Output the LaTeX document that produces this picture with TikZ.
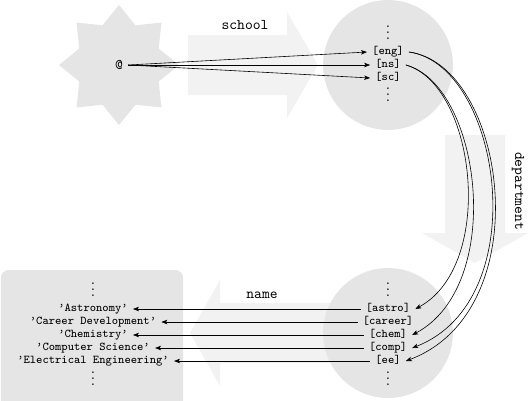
\documentclass[tikz,border=0pt]{standalone}
\usetikzlibrary{arrows.meta}
\newcommand{\vdts}{\vbox{\baselineskip4pt\lineskiplimit0pt\hbox{.}\hbox{.}\hbox{.}}}
\newcommand{\q}{\textquoteright}
\begin{document}
\begin{tikzpicture}[x=0.673pt, y=-0.673pt,
  shapefill/.style={fill=gray!20},
  fatarrow/.style={fill=gray!10},
  item/.style={font=\ttfamily\footnotesize, text height=5.5pt, text depth=1.8pt, inner ysep=0.2pt},
  dotnode/.style={font=\ttfamily\footnotesize, inner sep=0pt},
  lbl/.style={font=\ttfamily},
  conn/.style={-{Stealth[length=4pt,width=3pt,inset=1pt]}}]
\useasboundingbox (0,0) rectangle (530,400);
% fat arrows
\fill[fatarrow] (188,35) -- (287,35) -- (287,12) -- (318,65) -- (287,118) -- (287,95) -- (188,95) -- cycle;
\fill[fatarrow] (445,135) -- (505,135) -- (505,233) -- (528,233) -- (475,263) -- (422,233) -- (445,233) -- cycle;
\fill[fatarrow] (345,303) -- (220,303) -- (220,280) -- (190,333) -- (220,386) -- (220,363) -- (345,363) -- cycle;
% star
\begin{scope}[shift={(119,65)}]
\fill[shapefill] (90:60) -- (112.5:43) -- (135:60) -- (157.5:43) -- (180:60) -- (202.5:43) -- (225:60) -- (247.5:43) -- (270:60) -- (292.5:43) -- (315:60) -- (337.5:43) -- (0:60) -- (22.5:43) -- (45:60) -- (67.5:43) -- cycle;
\end{scope}
% circles and box
\fill[shapefill] (388,65) circle[radius=43.7pt];
\fill[shapefill] (388,333) circle[radius=43.7pt];
\fill[shapefill, rounded corners=5pt] (1,270) rectangle (183,420);
% labels
\node[lbl] (school) at (245,25) {school};
\node[lbl, rotate=-90] (department) at (518,191) {department};
\node[lbl] (name) at (262,295) {name};
% root
\node[lbl] (at) at (119,65) {@};
% top circle
\node[dotnode] (td1) at (388,33) {\vdts};
\node[item] (eng) at (388,52) {[eng]};
\node[item] (ns) at (388,65) {[ns]};
\node[item] (sc) at (388,78) {[sc]};
\node[dotnode] (td2) at (388,95) {\vdts};
% bottom circle
\node[dotnode] (bd1) at (388,290) {\vdts};
\node[item] (astro) at (388,309) {[astro]};
\node[item] (career) at (388,322) {[career]};
\node[item] (chem) at (388,335) {[chem]};
\node[item] (comp) at (388,348) {[comp]};
\node[item] (ee) at (388,361) {[ee]};
\node[dotnode] (bd2) at (388,379) {\vdts};
% names
\node[dotnode] (ld1) at (93,290) {\vdts};
\node[item] (nastro) at (93,309) {\q Astronomy\q};
\node[item] (ncareer) at (93,322) {\q Career Development\q};
\node[item] (nchem) at (93,335) {\q Chemistry\q};
\node[item] (ncomp) at (93,348) {\q Computer Science\q};
\node[item] (nee) at (93,361) {\q Electrical Engineering\q};
\node[dotnode] (ld2) at (93,379) {\vdts};
% connectors
\draw[conn] (at.east) -- (eng.west);
\draw[conn] (at.east) -- (ns.west);
\draw[conn] (at.east) -- (sc.west);
\draw[conn] (ns.east) .. controls +(70,20) and +(81,-44) .. (astro.east);
\draw[conn] (ns.east) .. controls +(75,20) and +(94,-50) .. (chem.east);
\draw[conn] (eng.east) .. controls +(92,13) and +(124,-48) .. (comp.east);
\draw[conn] (eng.east) .. controls +(97,13) and +(135,-51) .. (ee.east);
\draw[conn] (astro.west) -- (nastro.east);
\draw[conn] (career.west) -- (ncareer.east);
\draw[conn] (chem.west) -- (nchem.east);
\draw[conn] (comp.west) -- (ncomp.east);
\draw[conn] (ee.west) -- (nee.east);
\end{tikzpicture}
\end{document}
